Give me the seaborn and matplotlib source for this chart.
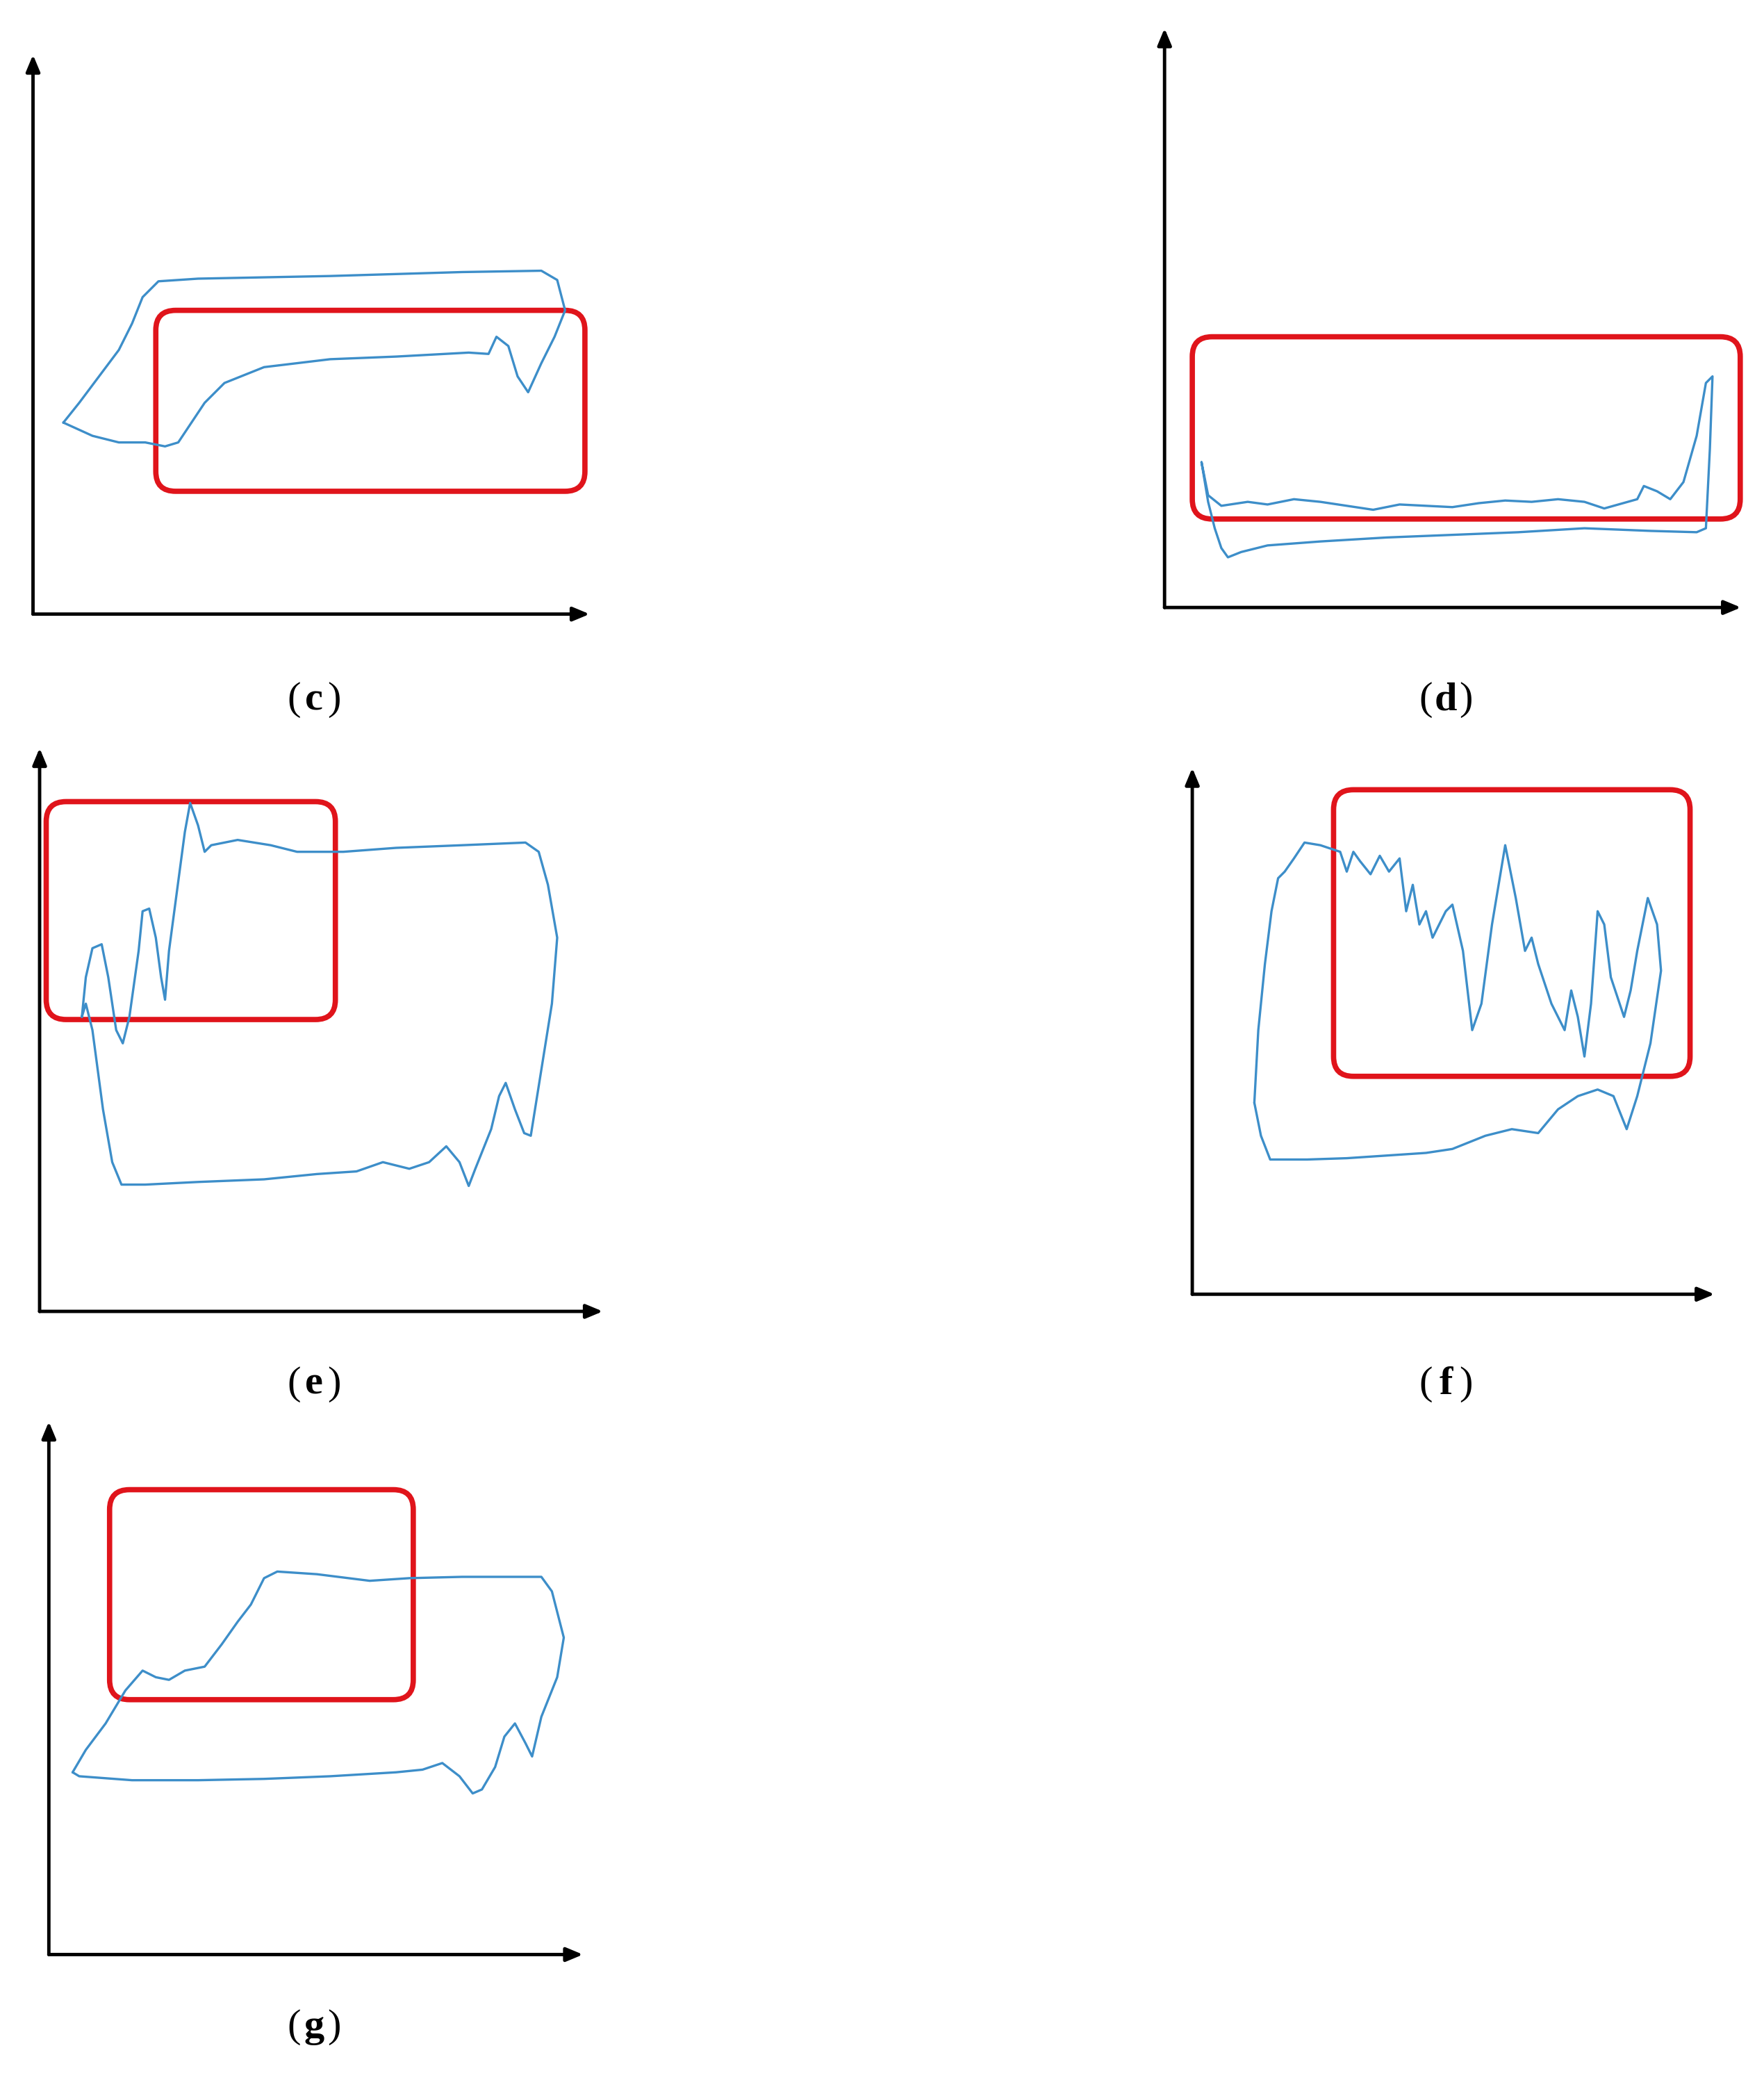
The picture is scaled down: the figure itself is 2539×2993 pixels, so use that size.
import matplotlib
matplotlib.use("Agg")
import matplotlib.pyplot as plt
import seaborn as sns
import pandas as pd
from matplotlib.patches import FancyBboxPatch

sns.set_theme(style="white")

c_x = [48,60,75,90,100,108,120,150,250,350,410,422,428,420,410,400,392,385,376,370,355,300,250,200,170,155,145,135,125,110,90,70,48]
c_y = [320,305,285,265,245,225,213,211,209,206,205,212,235,255,275,297,285,262,255,268,267,270,272,278,290,305,320,335,338,335,335,330,320]
d_x = [910,915,925,945,960,980,1000,1020,1040,1060,1080,1100,1120,1140,1160,1180,1200,1215,1240,1245,1255,1265,1275,1285,1292,1297,1295,1292,1285,1250,1200,1150,1100,1050,1000,960,940,930,925,920,915,910]
d_y = [350,375,383,380,382,378,380,383,386,382,383,384,381,379,380,378,380,385,378,368,372,378,365,330,290,285,340,400,403,402,400,403,405,407,410,413,418,422,415,400,380,350]
e_x = [62,65,70,77,82,88,93,98,105,108,113,118,122,125,128,132,136,140,144,150,155,160,180,205,225,260,300,350,398,408,415,422,418,410,402,397,390,383,378,372,360,355,348,338,325,310,290,270,240,200,150,110,92,85,78,70,65,62]
e_y = [770,740,718,715,740,780,790,770,720,690,688,710,740,757,720,690,660,630,608,625,645,640,636,640,645,645,642,640,638,645,670,710,760,810,860,858,840,820,830,855,885,898,880,868,880,885,880,887,889,893,895,897,897,880,840,780,760,770]
f_x = [950,953,958,963,968,973,980,988,1000,1015,1020,1025,1030,1038,1045,1052,1060,1065,1070,1075,1080,1085,1090,1095,1100,1108,1115,1122,1130,1140,1148,1155,1160,1165,1175,1185,1190,1195,1200,1205,1210,1215,1220,1230,1235,1240,1248,1255,1258,1250,1240,1232,1222,1210,1195,1180,1165,1145,1125,1100,1080,1050,1020,990,962,955,950]
f_y = [835,780,730,690,665,660,650,638,640,645,660,645,652,662,648,660,650,690,670,700,690,710,700,690,685,720,780,760,700,640,680,720,710,730,760,780,750,770,800,760,690,700,740,770,750,720,680,700,735,790,830,855,830,825,830,840,858,855,860,870,873,875,877,878,878,860,835]
g_x = [55,65,80,95,108,118,128,140,155,168,180,190,200,210,240,280,310,350,410,418,427,422,410,403,398,390,382,375,365,358,348,335,320,300,250,200,150,100,60,55]
g_y = [1342,1325,1305,1280,1265,1270,1272,1265,1262,1245,1228,1215,1195,1190,1192,1197,1195,1194,1194,1205,1240,1270,1300,1330,1320,1305,1315,1338,1355,1358,1345,1335,1340,1342,1345,1347,1348,1348,1345,1342]

curves = [(c_x, c_y), (d_x, d_y), (e_x, e_y), (f_x, f_y), (g_x, g_y)]
axes_def = [((25, 465), 40, 448), ((882, 460), 20, 1320), ((30, 993), 565, 458),
            ((903, 980), 580, 1300), ((37, 1480), 1075, 443)]
boxes = [(118, 235, 443, 372), (903, 255, 1318, 393), (35, 607, 254, 772),
         (1010, 598, 1280, 815), (83, 1128, 313, 1287)]
labels = ["c", "d", "e", "f", "g"]
label_pos = [(238, 530), (1095, 530), (238, 1048), (1095, 1048), (238, 1535)]

fig = plt.figure(figsize=(25.39, 29.93), dpi=100)
ax = fig.add_axes([0, 0, 1, 1])
ax.set_xlim(0, 1336)
ax.set_ylim(1575, 0)

blue = "#3d8ec9"
red = "#e0141b"
for (x, y) in curves:
    df = pd.DataFrame({"x": x, "y": y})
    sns.lineplot(data=df, x="x", y="y", sort=False, estimator=None, ax=ax, color=blue, lw=2.4)
ax.axis("off")

for (ox, oy), ytop, xend in axes_def:
    ax.annotate("", xy=(ox, ytop), xytext=(ox, oy + 1.5),
                arrowprops=dict(arrowstyle="-|>,head_length=1.2,head_width=0.5", color="black", lw=3.5))
    ax.annotate("", xy=(xend, oy), xytext=(ox - 1.5, oy),
                arrowprops=dict(arrowstyle="-|>,head_length=1.2,head_width=0.5", color="black", lw=3.5))

for x0, y0, x1, y1 in boxes:
    ax.add_patch(FancyBboxPatch((x0 + 15, y0 + 15), x1 - x0 - 30, y1 - y0 - 30,
                                boxstyle="round,pad=15", fill=False, ec=red, lw=5.5))

for lab, (lx, ly) in zip(labels, label_pos):
    ax.text(lx - 10, ly, "(", fontsize=42, family="Liberation Serif", ha="right", va="center", color="black")
    ax.text(lx, ly, lab, fontsize=42, family="Liberation Serif", weight="bold", ha="center", va="center", color="black")
    ax.text(lx + 10, ly, ")", fontsize=42, family="Liberation Serif", ha="left", va="center", color="black")

fig.savefig("out.png", dpi=100, facecolor="white")
